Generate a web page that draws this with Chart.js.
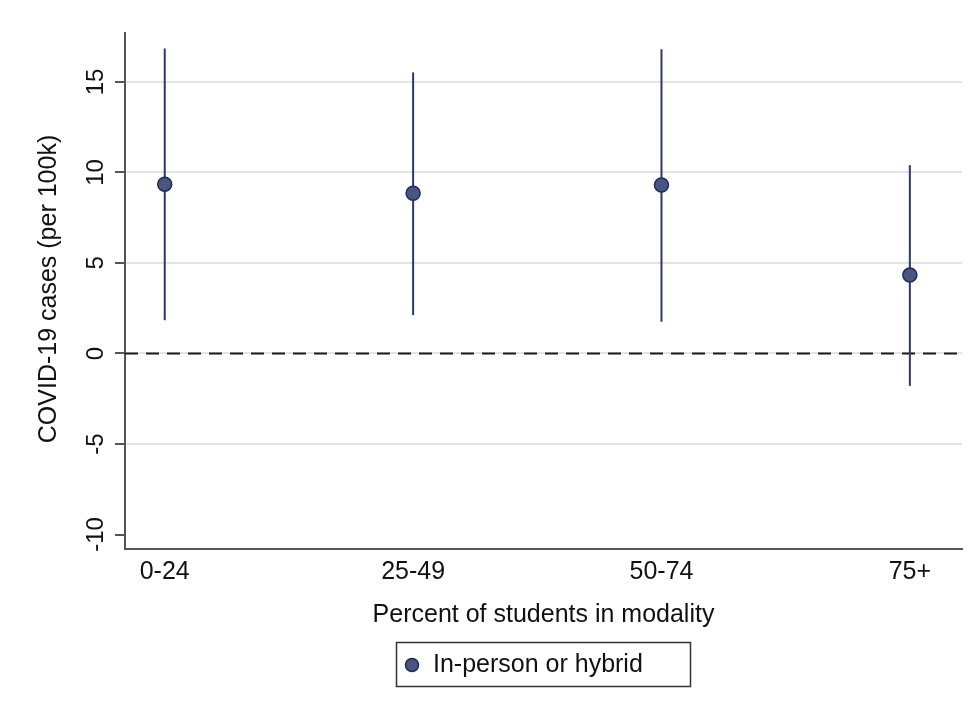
<!DOCTYPE html>
<html>
<head>
<meta charset="utf-8">
<script src="https://cdn.jsdelivr.net/npm/chart.js@4.4.1/dist/chart.umd.min.js"></script>
<style>
  html, body { margin: 0; padding: 0; background: #ffffff; }
  #wrap { width: 975px; height: 717px; }
</style>
</head>
<body>
<div id="wrap"><canvas id="c" width="975" height="717"></canvas></div>
<script>
// ---- data ----
const categories = ["0-24", "25-49", "50-74", "75+"];
const xPositions = [1, 2, 3, 4];
const estimates = [9.35, 8.85, 9.3, 4.33];
const ciLow = [1.84, 2.12, 1.75, -1.79];
const ciHigh = [16.85, 15.52, 16.8, 10.4];
const yTicks = [-10, -5, 0, 5, 10, 15];
const yTickLabels = ["-10", "-5", "0", "5", "10", "15"];
const legendLabel = "In-person or hybrid";
const xTitle = "Percent of students in modality";
const yTitle = "COVID-19 cases (per 100k)";

const FONT = '"Liberation Sans", Arial, sans-serif';
const LINE_COLOR = '#2b3966';
const PT_FILL = '#4a5680';
const PT_BORDER = '#1f2c5a';
const X_MIN = 0.84, X_MAX = 4.21;

const datasets = [];
// point estimates
datasets.push({
  type: 'scatter',
  label: legendLabel,
  data: xPositions.map((x, i) => ({ x: x, y: estimates[i] })),
  pointRadius: 7,
  pointHoverRadius: 7,
  backgroundColor: PT_FILL,
  borderColor: PT_BORDER,
  borderWidth: 1.5,
  order: 0
});
// CI bars
xPositions.forEach((x, i) => {
  datasets.push({
    type: 'line',
    label: 'ci' + i,
    data: [{ x: x, y: ciLow[i] }, { x: x, y: ciHigh[i] }],
    borderColor: LINE_COLOR,
    borderWidth: 2,
    pointRadius: 0,
    fill: false,
    order: 1
  });
});
// zero reference line
datasets.push({
  type: 'line',
  label: 'zero',
  data: [{ x: X_MIN, y: 0 }, { x: X_MAX, y: 0 }],
  borderColor: '#1a1a1a',
  borderWidth: 2,
  borderDash: [13, 8],
  pointRadius: 0,
  fill: false,
  order: 2
});

const textPlugin = {
  id: 'textPlugin',
  afterDraw(chart) {
    const ctx = chart.ctx;
    const ys = chart.scales.y;
    const ca = chart.chartArea;
    ctx.save();
    ctx.fillStyle = '#111111';
    // y tick labels (rotated)
    ctx.font = '24px ' + FONT;
    ctx.textAlign = 'center';
    ctx.textBaseline = 'middle';
    yTicks.forEach((v, i) => {
      const py = ys.getPixelForValue(v);
      ctx.save();
      ctx.translate(96, py);
      ctx.rotate(-Math.PI / 2);
      ctx.fillText(yTickLabels[i], 0, 0);
      ctx.restore();
    });
    // y title
    ctx.font = '25px ' + FONT;
    ctx.save();
    ctx.translate(49, (ca.top + ca.bottom) / 2 - 2);
    ctx.rotate(-Math.PI / 2);
    ctx.fillText(yTitle, 0, 0);
    ctx.restore();
    // x title
    ctx.fillText(xTitle, (ca.left + ca.right) / 2, 615);
    // legend
    ctx.strokeStyle = '#333333';
    ctx.lineWidth = 1.5;
    ctx.strokeRect(396.5, 642.5, 294, 44);
    ctx.beginPath();
    ctx.arc(412, 665, 6.5, 0, Math.PI * 2);
    ctx.fillStyle = PT_FILL;
    ctx.fill();
    ctx.strokeStyle = PT_BORDER;
    ctx.lineWidth = 1.5;
    ctx.stroke();
    ctx.fillStyle = '#111111';
    ctx.textAlign = 'left';
    ctx.fillText(legendLabel, 433, 665);
    ctx.restore();
  }
};

new Chart(document.getElementById('c'), {
  type: 'scatter',
  data: { datasets: datasets },
  options: {
    responsive: false,
    animation: false,
    devicePixelRatio: 1,
    layout: { padding: { top: 33, right: 13, left: 0, bottom: 0 } },
    plugins: { legend: { display: false }, tooltip: { enabled: false } },
    scales: {
      x: {
        type: 'linear',
        min: X_MIN,
        max: X_MAX,
        afterBuildTicks(scale) { scale.ticks = xPositions.map(v => ({ value: v })); },
        afterFit(scale) { scale.height = 168; },
        grid: { display: false, drawTicks: false },
        border: { display: true, color: '#555555', width: 2 },
        ticks: {
          padding: 8,
          color: '#111111',
          font: { family: FONT, size: 25 },
          maxRotation: 0,
          minRotation: 0,
          callback(value) {
            const idx = xPositions.indexOf(value);
            return idx >= 0 ? categories[idx] : '';
          }
        }
      },
      y: {
        type: 'linear',
        min: -10.8,
        max: 17.7,
        afterBuildTicks(scale) { scale.ticks = yTicks.map(v => ({ value: v })); },
        afterFit(scale) { scale.width = 125; },
        grid: {
          drawTicks: true,
          tickLength: 10,
          tickColor: '#555555',
          lineWidth: 2,
          color(ctx) {
            const v = ctx.tick ? ctx.tick.value : null;
            return v === -10 ? 'rgba(0,0,0,0)' : '#e3e3e3';
          }
        },
        border: { display: true, color: '#555555', width: 2 },
        ticks: { display: false }
      }
    }
  },
  plugins: [textPlugin]
});
</script>
</body>
</html>
